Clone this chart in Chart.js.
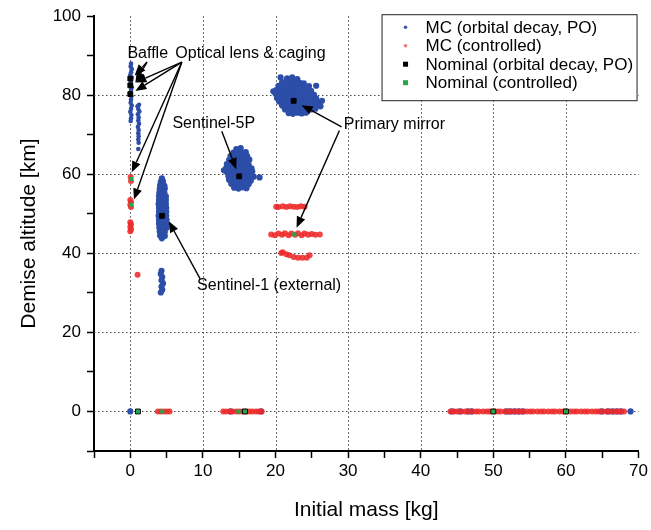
<!DOCTYPE html>
<html>
<head>
<meta charset="utf-8">
<script src="https://cdn.jsdelivr.net/npm/chart.js@4.4.1/dist/chart.umd.min.js"></script>
<style>
  html, body { margin: 0; padding: 0; background: #fff; }
  #wrap { width: 651px; height: 530px; }
</style>
</head>
<body>
<div id="wrap"><canvas id="demiseChart" width="651" height="530"></canvas></div>
<script>
// initial mass [kg] / demise altitude [km]

// MC runs, orbital decay (PO)
var mcDecayBaffle = [[0.10,88.0],[0.05,87.3],[0.20,86.6],[0.10,85.8],[0.00,85.1],[0.20,84.4],[0.10,83.6],[0.05,82.8],[0.20,82.0],[0.10,81.3],[0.00,80.5],[0.15,79.7],[0.10,78.9],[0.05,78.1],[0.20,77.4],[0.10,76.6],[0.00,75.8],[0.15,75.0],[0.10,74.2],[0.05,73.5]];
var mcDecayLens = [[1.20,77.6],[1.00,77.2],[1.10,76.5],[1.25,75.9],[1.05,75.2],[1.15,74.4],[1.10,73.6],[1.20,72.8],[1.05,72.0],[1.15,71.2],[1.10,70.4],[1.15,69.6],[1.10,68.8],[1.15,68.0],[1.10,66.4]];
var mcDecayS5P = [
    [14.6,66.4],[15.2,66.6],
    [14.2,65.5],[14.8,65.7],[15.4,65.4],[15.9,65.6],
    [13.8,64.6],[14.4,64.4],[15.0,64.7],[15.6,64.5],[16.1,64.6],
    [13.6,63.6],[14.2,63.8],[14.8,63.5],[15.4,63.7],[16.0,63.5],[16.4,63.7],
    [13.3,62.6],[13.9,62.4],[14.5,62.7],[15.1,62.5],[15.7,62.6],[16.3,62.4],
    [13.2,61.6],[13.8,61.8],[14.4,61.5],[15.0,61.7],[15.6,61.5],[16.2,61.7],[16.7,61.5],
    [13.3,60.6],[13.9,60.4],[14.5,60.7],[15.1,60.5],[15.7,60.6],[16.3,60.4],[16.8,60.7],
    [13.5,59.6],[14.1,59.8],[14.7,59.5],[15.3,59.7],[15.9,59.5],[16.5,59.7],[17.0,59.4],
    [13.6,58.6],[14.2,58.4],[14.8,58.7],[15.4,58.5],[16.0,58.6],[16.6,58.4],
    [13.9,57.6],[14.5,57.8],[15.1,57.5],[15.7,57.7],[16.3,57.5],
    [14.3,56.6],[14.9,56.4],[15.5,56.7],[16.0,56.5],
    [17.8,59.2],[12.9,61.0]
];
var mcDecayMirror = [
    [21.6,84.3],[22.3,84.5],[23.0,84.1],
    [20.9,83.3],[21.5,83.6],[22.1,83.3],[22.7,83.5],[23.3,83.2],[23.9,83.0],
    [20.4,82.4],[21.0,82.6],[21.6,82.3],[22.2,82.5],[22.8,82.2],[23.4,82.5],[24.0,82.1],[24.6,82.3],
    [20.1,81.3],[20.7,81.5],[21.3,81.2],[21.9,81.5],[22.5,81.3],[23.1,81.6],[23.7,81.2],[24.3,81.4],[24.9,81.1],
    [20.0,80.4],[20.6,80.2],[21.2,80.5],[21.8,80.3],[22.4,80.5],[23.0,80.2],[23.6,80.4],[24.2,80.2],[24.8,80.5],[25.3,80.1],
    [20.2,79.3],[20.8,79.5],[21.4,79.2],[22.0,79.4],[22.6,79.6],[23.2,79.3],[23.8,79.5],[24.4,79.2],[25.0,79.4],[25.6,79.2],
    [20.5,78.4],[21.1,78.2],[21.7,78.5],[22.3,78.3],[22.9,78.5],[23.5,78.2],[24.1,78.4],[24.7,78.2],[25.3,78.5],[25.9,78.3],
    [20.9,77.4],[21.5,77.2],[22.1,77.5],[22.7,77.3],[23.3,77.5],[23.9,77.2],[24.5,77.4],[25.1,77.3],[25.7,77.5],[26.2,77.2],
    [21.3,76.4],[21.9,76.2],[22.5,76.5],[23.1,76.3],[23.7,76.5],[24.3,76.2],[24.9,76.4],[25.5,76.6],
    [21.8,75.5],[22.4,75.3],[23.0,75.6],[23.6,75.4],[24.2,75.6],
    [19.7,81.0],[26.4,78.6],[25.6,82.4],[20.7,84.5]
];
var mcDecayS1 = [
    [4.35,59.0],
    [4.20,58.1],[4.50,58.2],
    [4.10,57.2],[4.40,57.3],[4.70,57.1],
    [4.05,56.3],[4.40,56.2],[4.75,56.4],
    [4.00,55.4],[4.35,55.5],[4.70,55.3],
    [3.95,54.5],[4.30,54.4],[4.60,54.6],[4.90,54.4],
    [3.95,53.5],[4.30,53.6],[4.60,53.4],[4.90,53.5],
    [3.90,52.5],[4.25,52.4],[4.55,52.6],[4.90,52.5],
    [3.95,51.5],[4.30,51.6],[4.60,51.4],[4.95,51.5],
    [3.95,50.5],[4.30,50.4],[4.60,50.6],[4.95,50.5],
    [3.90,49.5],[4.25,49.6],[4.60,49.4],[4.95,49.5],
    [3.95,48.5],[4.30,48.4],[4.60,48.6],[5.00,48.5],
    [3.95,47.5],[4.30,47.6],[4.65,47.4],[5.00,47.5],
    [4.00,46.5],[4.35,46.4],[4.70,46.6],[5.00,46.5],
    [4.05,45.5],[4.40,45.6],[4.75,45.4],
    [4.10,44.5],[4.45,44.6],[4.75,44.4],
    [4.35,43.8]
];
var mcDecayS1Low = [[4.3,35.6],[4.2,34.8],[4.4,34.0],[4.3,33.2],[4.5,32.4],[4.3,31.6],[4.4,30.8],[4.2,30.1]];
var mcDecayGround = [[0.0,0],[13.8,0],[18.0,0],[44.3,0],[45.4,0],[46.5,0],[47.0,0],[51.8,0],[52.3,0],[52.9,0],[53.5,0],[54.1,0],[64.9,0],[65.8,0],[66.4,0],[67.0,0],[67.6,0],[68.9,0]];

// MC runs, controlled re-entry
var mcCtrlOptics = [[0.05,59.3],[0.10,58.3],[0.00,53.5],[0.10,52.9],[0.00,52.3],[0.10,51.7],[0.00,47.9],[0.10,47.3],[0.00,46.7],[0.10,46.1],[0.00,45.6],[1.00,34.6]];
var mcCtrlMirror = [
    [20.1,51.8],[20.4,51.7],[21.0,51.9],[21.5,51.7],[22.0,51.9],[22.5,51.8],[23.0,51.7],[23.5,51.9],[24.0,51.8],
    [19.4,44.8],[19.9,44.6],[20.4,45.0],[20.9,44.7],[21.3,45.1],[21.8,44.6],[22.2,45.0],[22.7,44.7],[23.1,45.1],[23.6,44.6],[24.0,45.0],[24.5,44.7],[25.0,44.9],[25.5,44.7],[26.1,44.8],
    [20.8,40.1],[21.0,40.3],[21.5,39.8],[21.9,39.5],[22.5,39.1],[23.1,38.9],[23.7,38.9],[24.3,38.9],[24.7,39.5]
];
var mcCtrlGround = [
    [3.8,0],[4.2,0],[4.6,0],[5.0,0],[5.4,0],
    [12.8,0],[13.2,0],[13.7,0],[14.1,0],[14.6,0],[15.0,0],[15.5,0],[15.9,0],[16.4,0],[16.8,0],[17.3,0],[17.7,0],[18.1,0],
    [44.1,0],[44.6,0],[45.0,0],[45.6,0],[46.1,0],[46.5,0],[47.1,0],[47.6,0],[48.0,0],[48.6,0],[49.1,0],[49.5,0],
    [50.1,0],[50.6,0],[51.0,0],[51.6,0],[52.1,0],[52.5,0],[53.1,0],[53.6,0],[54.0,0],[54.6,0],[55.1,0],[55.5,0],
    [56.1,0],[56.6,0],[57.0,0],[57.6,0],[58.1,0],[58.5,0],[59.1,0],[59.6,0],[60.0,0],[60.6,0],[61.1,0],[61.5,0],
    [62.1,0],[62.6,0],[63.0,0],[63.6,0],[64.1,0],[64.5,0],[65.1,0],[65.6,0],[66.0,0],[66.6,0],[67.1,0],[67.5,0],[68.0,0]
];

// nominal cases
var nomDecay = [[0,84.2],[0,82.5],[0,80.3],[4.36,49.5],[15.0,59.5],[22.5,78.6],[1.05,0],[15.8,0],[50,0],[60,0]];
var nomCtrl = [[0.1,58.8],[0.1,52.3],[22.6,44.8],[1.05,0],[4.4,0],[14.9,0],[15.8,0],[50,0],[60,0]];

// labels with arrows (mass, altitude)
var noteLabels = [
    { text: "Baffle", x: -0.4, y: 90.5 },
    { text: "Optical lens & caging", x: 6.2, y: 90.5 },
    { text: "Sentinel-5P", x: 5.8, y: 72.9 },
    { text: "Primary mirror", x: 29.4, y: 72.6 },
    { text: "Sentinel-1 (external)", x: 9.2, y: 31.9 }
];
var noteArrows = [
    [2.3, 88.4, 0.6, 85.0],
    [2.3, 88.4, 0.7, 83.2],
    [7.1, 88.4, 0.7, 83.2],
    [7.1, 88.4, 0.7, 81.1],
    [7.1, 88.4, 0.2, 60.5],
    [7.1, 88.4, 0.5, 53.6],
    [12.6, 70.9, 14.6, 61.3],
    [29.1, 72.0, 23.6, 77.5],
    [28.8, 71.1, 22.9, 46.5],
    [9.6, 33.6, 5.3, 48.1]
];

var legendItems = [
    { text: "MC (orbital decay, PO)", color: "#3b5bb0", shape: "dot" },
    { text: "MC (controlled)", color: "#f27a7a", shape: "dot" },
    { text: "Nominal (orbital decay, PO)", color: "#000000", shape: "square" },
    { text: "Nominal (controlled)", color: "#22a84a", shape: "square" }
];

var FONT = "'Liberation Sans', Arial, sans-serif";
var BLUE = "#2c4ea8";
var RED = "rgba(238,43,43,0.88)";

function toXY(list) {
    return list.map(function(p){ return { x: p[0], y: p[1] }; });
}

// text + arrows drawn over the points
var notesPlugin = {
    id: "notes",
    afterDatasetsDraw: function(chart) {
        var ctx = chart.ctx, sx = chart.scales.x, sy = chart.scales.y;
        ctx.save();
        ctx.strokeStyle = "#000";
        ctx.fillStyle = "#000";
        ctx.lineWidth = 1.4;
        noteArrows.forEach(function(a){
            var x1 = sx.getPixelForValue(a[0]), y1 = sy.getPixelForValue(a[1]);
            var x2 = sx.getPixelForValue(a[2]), y2 = sy.getPixelForValue(a[3]);
            var ang = Math.atan2(y2 - y1, x2 - x1);
            var hl = 11, hw = 4.5;
            var bx = x2 - hl * Math.cos(ang), by = y2 - hl * Math.sin(ang);
            ctx.beginPath();
            ctx.moveTo(x1, y1);
            ctx.lineTo(bx, by);
            ctx.stroke();
            ctx.beginPath();
            ctx.moveTo(x2, y2);
            ctx.lineTo(bx + hw * Math.sin(ang), by - hw * Math.cos(ang));
            ctx.lineTo(bx - hw * Math.sin(ang), by + hw * Math.cos(ang));
            ctx.closePath();
            ctx.fill();
        });
        ctx.font = "16px " + FONT;
        ctx.textAlign = "left";
        ctx.textBaseline = "middle";
        noteLabels.forEach(function(n){
            ctx.fillText(n.text, sx.getPixelForValue(n.x), sy.getPixelForValue(n.y));
        });
        ctx.restore();
    }
};

// dotted grid, drawn under the points
var dottedGridPlugin = {
    id: "dottedGrid",
    beforeDatasetsDraw: function(chart) {
        var ctx = chart.ctx, area = chart.chartArea, sx = chart.scales.x, sy = chart.scales.y;
        ctx.save();
        ctx.strokeStyle = "#444";
        ctx.lineWidth = 1;
        ctx.setLineDash([1.5, 2.5]);
        sx.ticks.forEach(function(t){
            if (t.value % 10 !== 0 || t.value < 0 || t.value > 60) return;
            var px = Math.round(sx.getPixelForValue(t.value)) + 0.5;
            ctx.beginPath();
            ctx.moveTo(px, area.top);
            ctx.lineTo(px, area.bottom);
            ctx.stroke();
        });
        sy.ticks.forEach(function(t){
            if (t.value % 20 !== 0 || t.value < 0 || t.value > 80) return;
            var py = Math.round(sy.getPixelForValue(t.value)) + 0.5;
            ctx.beginPath();
            ctx.moveTo(area.left, py);
            ctx.lineTo(area.right, py);
            ctx.stroke();
        });
        ctx.restore();
    }
};

// boxed legend in the upper right corner of the plot
var boxLegendPlugin = {
    id: "boxLegend",
    afterDraw: function(chart) {
        var ctx = chart.ctx, area = chart.chartArea;
        var right = area.right - 2, top = area.top - 2;
        var w = 255, h = 86;
        var left = right - w;
        ctx.save();
        ctx.fillStyle = "#fff";
        ctx.fillRect(left, top, w, h);
        ctx.strokeStyle = "#222";
        ctx.lineWidth = 1;
        ctx.strokeRect(left + 0.5, top + 0.5, w, h);
        ctx.font = "17px " + FONT;
        ctx.textBaseline = "middle";
        ctx.textAlign = "left";
        legendItems.forEach(function(item, i){
            var cy = top + 13 + i * 18.5;
            var mx = left + 24;
            ctx.fillStyle = item.color;
            if (item.shape === "dot") {
                ctx.beginPath();
                ctx.arc(mx, cy, 1.8, 0, Math.PI * 2);
                ctx.fill();
            } else {
                ctx.fillRect(mx - 2.5, cy - 2.5, 5, 5);
            }
            ctx.fillStyle = "#000";
            ctx.fillText(item.text, left + 44, cy + 1);
        });
        ctx.restore();
    }
};

function dotSet(label, list, color, radius, order) {
    return {
        label: label,
        data: toXY(list),
        backgroundColor: color,
        borderWidth: 0,
        pointRadius: radius,
        pointStyle: "circle",
        order: order
    };
}

var noGrid = function(){ return "rgba(0,0,0,0)"; };

var ctx = document.getElementById("demiseChart").getContext("2d");

var myChart = new Chart(ctx, {
    type: "scatter",
    data: {
        datasets: [
            dotSet("MC (controlled)", [].concat(mcCtrlOptics, mcCtrlMirror, mcCtrlGround), RED, 3, 3),
            dotSet("MC (orbital decay, PO)", [].concat(mcDecayS5P, mcDecayMirror, mcDecayS1, mcDecayS1Low, mcDecayGround), BLUE, 3.1, 4),
            // thin strips at the optics
            dotSet("MC (orbital decay, PO)", [].concat(mcDecayBaffle, mcDecayLens), BLUE, 2.3, 4),
            {
                label: "Nominal (orbital decay, PO)",
                data: toXY(nomDecay),
                backgroundColor: "#000",
                borderColor: "#000",
                borderWidth: 1,
                pointStyle: "rect",
                pointRadius: 3.4,
                order: 2
            },
            {
                label: "Nominal (controlled)",
                data: toXY(nomCtrl),
                backgroundColor: "#22a84a",
                borderWidth: 0,
                pointStyle: "rect",
                pointRadius: 2.9,
                order: 1
            }
        ]
    },
    options: {
        responsive: false,
        animation: false,
        events: [],
        layout: { padding: { top: 14, right: 11, left: 0, bottom: 0 } },
        plugins: {
            legend: { display: false },
            tooltip: { enabled: false }
        },
        scales: {
            x: {
                type: "linear",
                min: -5,
                max: 70,
                afterFit: function(scale){ scale.height = 79; },
                border: { display: true, color: "#000", width: 2 },
                grid: {
                    color: noGrid,
                    tickColor: "#000",
                    tickWidth: 1.5,
                    tickLength: 7,
                    drawTicks: true
                },
                ticks: {
                    stepSize: 5,
                    autoSkip: false,
                    maxRotation: 0,
                    padding: 3,
                    color: "#000",
                    font: { family: FONT, size: 17 },
                    callback: function(v){ return v % 10 === 0 ? v : ""; }
                },
                title: {
                    display: true,
                    text: "Initial mass [kg]",
                    color: "#000",
                    font: { family: FONT, size: 21 },
                    padding: { top: 0, bottom: 7 }
                }
            },
            y: {
                type: "linear",
                min: -10,
                max: 100,
                afterFit: function(scale){ scale.width = 94; },
                border: { display: true, color: "#000", width: 2 },
                grid: {
                    color: noGrid,
                    tickColor: "#000",
                    tickWidth: 1.5,
                    tickLength: 7,
                    drawTicks: true
                },
                ticks: {
                    stepSize: 10,
                    autoSkip: false,
                    padding: 6,
                    color: "#000",
                    font: { family: FONT, size: 17 },
                    callback: function(v){ return v % 20 === 0 ? v : ""; }
                },
                title: {
                    display: true,
                    text: "Demise altitude [km]",
                    color: "#000",
                    font: { family: FONT, size: 21 },
                    padding: { top: 17, bottom: 0 }
                }
            }
        }
    },
    plugins: [dottedGridPlugin, notesPlugin, boxLegendPlugin]
});
</script>
</body>
</html>
